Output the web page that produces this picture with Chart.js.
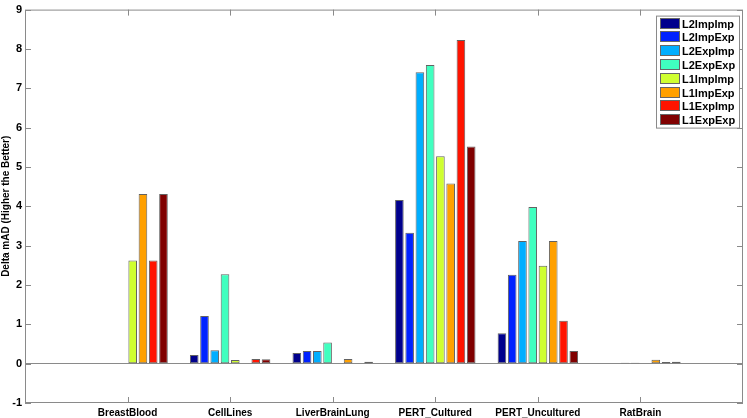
<!DOCTYPE html>
<html>
<head>
<meta charset="utf-8">
<script src="https://cdn.jsdelivr.net/npm/chart.js@4"></script>
<style>
  html, body { margin: 0; padding: 0; background: #fff; }
  #wrap { width: 747px; height: 418px; position: relative; }
</style>
</head>
<body>
<div id="wrap"><canvas id="barChart"></canvas></div>
<script>
// categories (empty ends give the half-gap MATLAB leaves at both sides)
const categories = ['', 'BreastBlood', 'CellLines', 'LiverBrainLung', 'PERT_Cultured', 'PERT_Uncultured', 'RatBrain', ''];
const seriesNames = ['L2ImpImp', 'L2ImpExp', 'L2ExpImp', 'L2ExpExp', 'L1ImpImp', 'L1ImpExp', 'L1ExpImp', 'L1ExpExp'];
const seriesColors = ['#00008c', '#0022ff', '#00aeff', '#40ffbf', '#cfff30', '#ffa000', '#ff1400', '#800000'];

// values per series, one per real category
const L2ImpImp = [0, 0.22, 0.27, 4.16, 0.77, 0];
const L2ImpExp = [0, 1.21, 0.32, 3.33, 2.26, 0];
const L2ExpImp = [0, 0.34, 0.32, 7.41, 3.12, 0.02];
const L2ExpExp = [0, 2.27, 0.54, 7.59, 3.98, 0.02];
const L1ImpImp = [2.62, 0.09, 0, 5.27, 2.49, 0];
const L1ImpExp = [4.31, 0, 0.12, 4.58, 3.12, 0.10];
const L1ExpImp = [2.62, 0.12, 0.01, 8.23, 1.09, 0.04];
const L1ExpExp = [4.31, 0.11, 0.05, 5.52, 0.32, 0.05];
const allSeries = [L2ImpImp, L2ImpExp, L2ExpImp, L2ExpExp, L1ImpImp, L1ImpExp, L1ExpImp, L1ExpExp];

const yTicks = [-1, 0, 1, 2, 3, 4, 5, 6, 7, 8, 9];

const FONT = '"Liberation Sans", Arial, Helvetica, sans-serif';
const BOX = '#8a8a8a';

// pad with null at both empty ends
const datasets = seriesNames.map((name, i) => ({
    label: name,
    data: [null, ...allSeries[i], null],
    backgroundColor: seriesColors[i],
    borderColor: 'rgba(70,70,70,0.85)',
    borderWidth: 1,
    borderSkipped: false,
    barPercentage: 0.84,
    categoryPercentage: 0.8
}));

// box around the plot + inward tick marks (MATLAB style)
const boxPlugin = {
    id: 'matlabBox',
    afterDraw(chart) {
        const { ctx, chartArea: a, scales } = chart;
        ctx.save();
        ctx.strokeStyle = BOX;
        ctx.lineWidth = 1;
        ctx.strokeRect(a.left + 0.5, a.top + 0.5, a.right - a.left - 1, a.bottom - a.top - 1);
        ctx.beginPath();
        scales.y.ticks.forEach((t, i) => {
            const y = Math.round(scales.y.getPixelForTick(i)) + 0.5;
            ctx.moveTo(a.left, y); ctx.lineTo(a.left + 6, y);
            ctx.moveTo(a.right, y); ctx.lineTo(a.right - 6, y);
        });
        categories.forEach((c, i) => {
            if (!c) return;
            const x = Math.round(scales.x.getPixelForTick(i)) + 0.5;
            ctx.moveTo(x, a.top); ctx.lineTo(x, a.top + 6);
            ctx.moveTo(x, a.bottom); ctx.lineTo(x, a.bottom - 6);
        });
        ctx.stroke();
        ctx.restore();
    }
};

// legend box inside the plot, top right
const legendPlugin = {
    id: 'insideLegend',
    afterDraw(chart) {
        const { ctx, chartArea: a } = chart;
        const ds = chart.data.datasets;
        const rowH = 13.8, w = 83, h = Math.round(ds.length * rowH + 2);
        const x0 = Math.round(a.right - 4 - w), y0 = a.top + 6;
        ctx.save();
        ctx.fillStyle = '#fff';
        ctx.fillRect(x0, y0, w, h);
        ctx.strokeStyle = BOX;
        ctx.strokeRect(x0 + 0.5, y0 + 0.5, w, h);
        ctx.font = 'bold 11px ' + FONT;
        ctx.textBaseline = 'middle';
        ds.forEach((d, i) => {
            const cy = Math.round(y0 + 1 + rowH * i + rowH / 2);
            ctx.fillStyle = d.backgroundColor;
            ctx.fillRect(x0 + 4, cy - 6, 20, 11);
            ctx.strokeStyle = '#666';
            ctx.strokeRect(x0 + 4.5, cy - 5.5, 19, 10);
            ctx.fillStyle = '#000';
            ctx.fillText(d.label, x0 + 26, cy + 0.5);
        });
        ctx.restore();
    }
};

const ctx = document.getElementById('barChart').getContext('2d');
new Chart(ctx, {
    type: 'bar',
    data: { labels: categories, datasets: datasets },
    options: {
        responsive: true,
        maintainAspectRatio: false,
        animation: false,
        layout: { padding: { top: 3, right: 1, left: 0, bottom: 0 } },
        plugins: { legend: { display: false }, tooltip: { enabled: false } },
        scales: {
            x: {
                offset: false,
                grid: { display: false, drawTicks: false },
                border: { display: false },
                ticks: {
                    autoSkip: false, maxRotation: 0, padding: 4,
                    color: '#000', font: { family: FONT, size: 10, weight: 'bold' }
                },
                afterFit(s) { s.height = 15; }
            },
            y: {
                min: yTicks[0],
                max: yTicks[yTicks.length - 1],
                afterBuildTicks(s) { s.ticks = yTicks.map(v => ({ value: v })); },
                grid: {
                    drawTicks: false,
                    color: c => (c.tick && c.tick.value === 0 ? BOX : 'rgba(0,0,0,0)'),
                    lineWidth: 1
                },
                border: { display: false },
                ticks: {
                    padding: 3, color: '#000',
                    font: { family: FONT, size: 11, weight: 'bold' }
                },
                title: {
                    display: true, text: 'Delta mAD (Higher the Better)',
                    color: '#000', padding: 0,
                    font: { family: FONT, size: 10, weight: 'bold' }
                },
                afterFit(s) { s.width = 25; }
            }
        }
    },
    plugins: [boxPlugin, legendPlugin]
});
</script>
</body>
</html>
